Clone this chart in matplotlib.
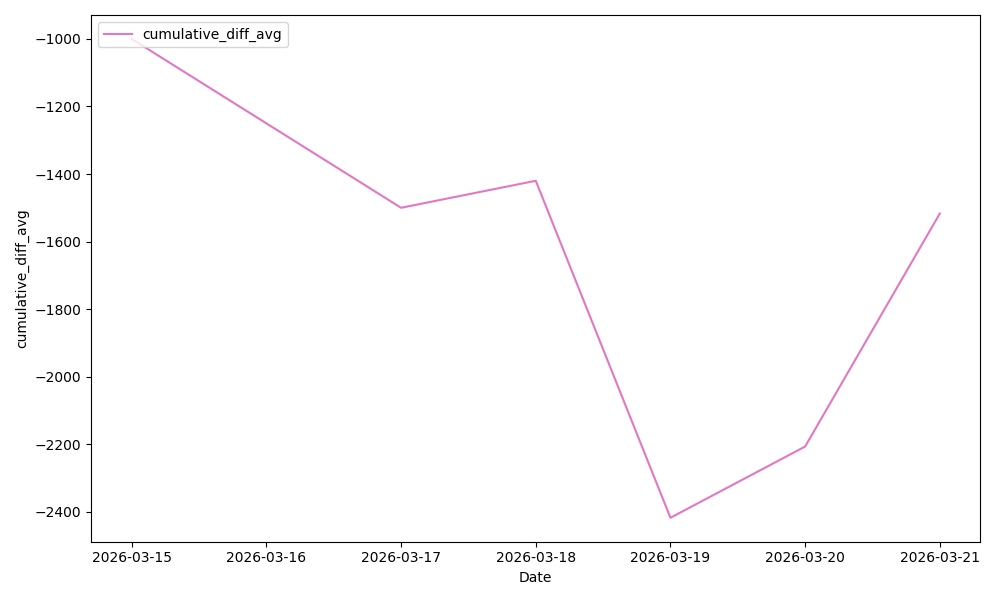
import pandas as pd
import matplotlib
matplotlib.use('Agg')
import matplotlib.pyplot as plt

dates = ['2026-03-15', '2026-03-16', '2026-03-17', '2026-03-18',
         '2026-03-19', '2026-03-20', '2026-03-21']
cumulative_diff_avg = [-1000, -1250, -1500, -1420, -2418, -2207, -1517]

df = pd.DataFrame({'Date': pd.to_datetime(dates),
                   'cumulative_diff_avg': cumulative_diff_avg})

fig, ax = plt.subplots(figsize=(10, 6))
ax.plot(df['Date'], df['cumulative_diff_avg'], color='tab:pink', label='cumulative_diff_avg')
ax.set_xticks(df['Date'])
ax.set_xticklabels(dates)
ax.set_xlabel('Date')
ax.set_ylabel('cumulative_diff_avg')
ax.legend(loc='upper left')
plt.tight_layout()
plt.savefig('out.png', dpi=100)
